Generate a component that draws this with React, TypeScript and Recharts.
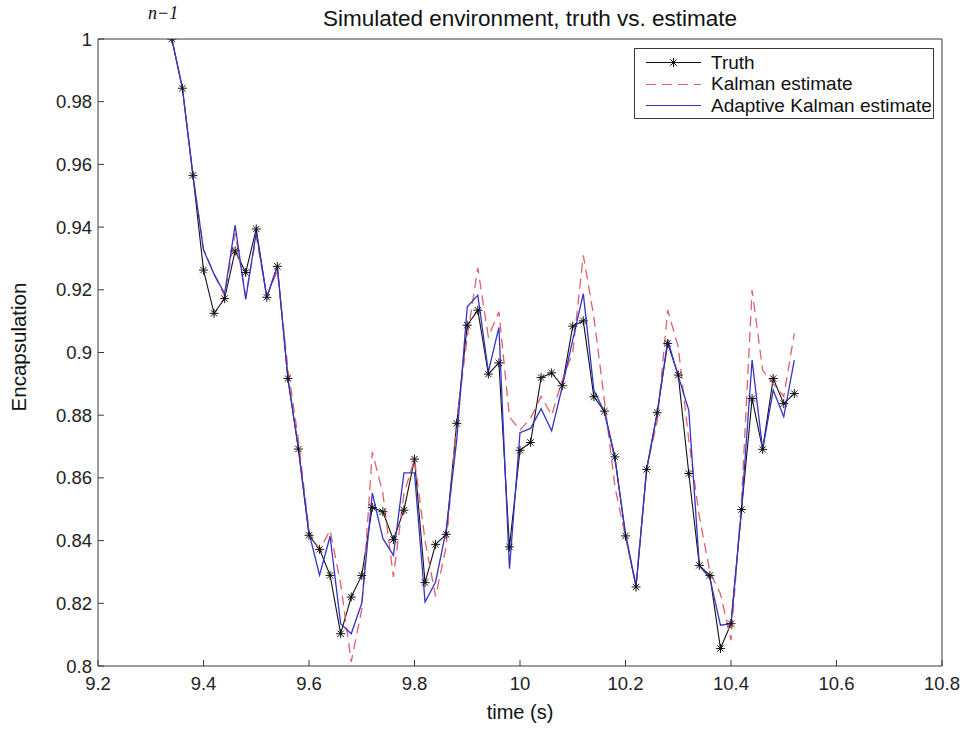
import React from 'react';
import { LineChart, Line, XAxis, YAxis, Legend } from 'recharts';

// time stamps (s) of the samples
const time = [
  9.34, 9.36, 9.38, 9.4, 9.42, 9.44, 9.46, 9.48, 9.5, 9.52,
  9.54, 9.56, 9.58, 9.6, 9.62, 9.64, 9.66, 9.68, 9.7, 9.72,
  9.74, 9.76, 9.78, 9.8, 9.82, 9.84, 9.86, 9.88, 9.9, 9.92,
  9.94, 9.96, 9.98, 10.0, 10.02, 10.04, 10.06, 10.08, 10.1, 10.12,
  10.14, 10.16, 10.18, 10.2, 10.22, 10.24, 10.26, 10.28, 10.3, 10.32,
  10.34, 10.36, 10.38, 10.4, 10.42, 10.44, 10.46, 10.48, 10.5, 10.52,
];

const truth = [
  1.0, 0.9843, 0.9565, 0.9263, 0.9125, 0.9172, 0.9324, 0.9255, 0.9394, 0.9176,
  0.9275, 0.8917, 0.8692, 0.8417, 0.8372, 0.8289, 0.8103, 0.822, 0.8289, 0.8506,
  0.8492, 0.8403, 0.8497, 0.866, 0.8266, 0.8388, 0.842, 0.8774, 0.9087, 0.9135,
  0.8931, 0.8967, 0.838, 0.8688, 0.8713, 0.892, 0.8935, 0.8894, 0.9084, 0.9101,
  0.8859, 0.8813, 0.8667, 0.8415, 0.8252, 0.8627, 0.8808, 0.9029, 0.8928, 0.8614,
  0.8321, 0.8289, 0.8056, 0.8135, 0.8499, 0.8853, 0.8691, 0.8917, 0.8837, 0.8869,
];

const kalman = [
  1.0, 0.9843, 0.9565, 0.933, 0.925, 0.918, 0.938, 0.918, 0.937, 0.918,
  0.926, 0.895, 0.872, 0.843, 0.837, 0.8433, 0.8263, 0.8013, 0.818, 0.8683,
  0.8551, 0.8284, 0.855, 0.866, 0.84, 0.8222, 0.838, 0.878, 0.905, 0.927,
  0.905, 0.913, 0.8795, 0.8752, 0.879, 0.886, 0.88, 0.8912, 0.9, 0.931,
  0.9114, 0.8848, 0.8571, 0.841, 0.826, 0.863, 0.878, 0.9135, 0.9018, 0.872,
  0.8476, 0.83, 0.823, 0.8082, 0.853, 0.9199, 0.8944, 0.89, 0.886, 0.9061,
];

const adaptive = [
  1.0, 0.9843, 0.9565, 0.9327, 0.925, 0.9188, 0.9406, 0.9169, 0.9385, 0.9176,
  0.9275, 0.8917, 0.8692, 0.8425, 0.829, 0.8414, 0.8135, 0.8103, 0.82, 0.8552,
  0.8407, 0.8353, 0.8616, 0.8616, 0.8204, 0.8268, 0.8433, 0.872, 0.9146, 0.9183,
  0.8938, 0.908, 0.831, 0.8744, 0.8758, 0.8821, 0.875, 0.889, 0.904, 0.9188,
  0.888, 0.881, 0.866, 0.8423, 0.8255, 0.8625, 0.8805, 0.9039, 0.8925, 0.8816,
  0.832, 0.828, 0.813, 0.8135, 0.85, 0.8976, 0.869, 0.888, 0.8795, 0.8976,
];

const seriesNames = ['Truth', 'Kalman estimate', 'Adaptive Kalman estimate'];

const xTicks = [9.2, 9.4, 9.6, 9.8, 10, 10.2, 10.4, 10.6, 10.8];
const yTicks = [0.8, 0.82, 0.84, 0.86, 0.88, 0.9, 0.92, 0.94, 0.96, 0.98, 1];

const data = time.map((t, i) => ({
  t,
  truth: truth[i],
  kalman: kalman[i],
  adaptive: adaptive[i],
}));

const FONT = '"Liberation Sans", Arial, Helvetica, sans-serif';
const AXIS = '#3a3a3a';
const RED = '#e0606a';
const BLUE = '#3434c8';

const fmt = (v: number) => String(+v.toFixed(2));

// matlab-style '*' marker
const Star = (props: any) => {
  const { cx, cy } = props;
  if (cx == null || cy == null) return null;
  const r = 4.5;
  const d = r * 0.7071;
  return (
    <g stroke="#111" strokeWidth={1} fill="none">
      <line x1={cx - r} y1={cy} x2={cx + r} y2={cy} />
      <line x1={cx} y1={cy - r} x2={cx} y2={cy + r} />
      <line x1={cx - d} y1={cy - d} x2={cx + d} y2={cy + d} />
      <line x1={cx - d} y1={cy + d} x2={cx + d} y2={cy - d} />
    </g>
  );
};

const renderLegend = (props: any) => {
  const payload = [...(props.payload || [])].sort(
    (a: any, b: any) => seriesNames.indexOf(a.value) - seriesNames.indexOf(b.value)
  );
  return (
    <div
      style={{
        width: 300,
        height: 71,
        boxSizing: 'border-box',
        border: `1px solid ${AXIS}`,
        background: '#fff',
        paddingTop: 3,
        fontFamily: FONT,
        fontSize: 19,
        color: '#111',
      }}
    >
      {payload.map((entry: any) => (
        <div key={entry.value} style={{ display: 'flex', alignItems: 'center', height: 21.5 }}>
          <svg width={76} height={21} style={{ flex: 'none' }}>
            <line
              x1={11}
              y1={10.5}
              x2={66}
              y2={10.5}
              stroke={entry.color}
              strokeWidth={1.2}
              strokeDasharray={entry.payload?.strokeDasharray}
            />
            {entry.dataKey === 'truth' && <Star cx={38.5} cy={10.5} />}
          </svg>
          <span style={{ whiteSpace: 'nowrap' }}>{entry.value}</span>
        </div>
      ))}
    </div>
  );
};

export default function App() {
  return (
    <div style={{ position: 'absolute', left: 0, top: 0, width: 962, height: 729, background: '#fff', fontFamily: FONT }}>
      <LineChart
        width={962}
        height={729}
        data={data}
        margin={{ top: 38, right: 19, left: 18, bottom: 33 }}
        style={{ fontFamily: FONT }}
      >
        <XAxis
          dataKey="t"
          type="number"
          domain={[9.2, 10.8]}
          ticks={xTicks}
          allowDataOverflow
          tickFormatter={fmt}
          height={30}
          tickSize={-6}
          tickMargin={17}
          stroke={AXIS}
          tick={{ fill: '#222', fontSize: 18.5 }}
        />
        <XAxis
          xAxisId="top"
          orientation="top"
          dataKey="t"
          type="number"
          domain={[9.2, 10.8]}
          ticks={xTicks}
          allowDataOverflow
          height={1}
          tick={false}
          tickSize={-6}
          stroke={AXIS}
        />
        <YAxis
          type="number"
          domain={[0.8, 1]}
          ticks={yTicks}
          allowDataOverflow
          tickFormatter={fmt}
          width={80}
          tickSize={-6}
          tickMargin={12}
          stroke={AXIS}
          tick={{ fill: '#222', fontSize: 18.5 }}
        />
        <YAxis
          yAxisId="right"
          orientation="right"
          type="number"
          domain={[0.8, 1]}
          ticks={yTicks}
          allowDataOverflow
          width={1}
          tick={false}
          tickSize={-6}
          stroke={AXIS}
        />
        <Legend
          layout="horizontal"
          verticalAlign="middle"
          align="center"
          content={renderLegend}
          wrapperStyle={{ position: 'absolute', left: 634, top: 48, width: 300, height: 71 }}
        />
        <Line
          name="Truth"
          dataKey="truth"
          type="linear"
          stroke="#111"
          strokeWidth={1.1}
          dot={<Star />}
          activeDot={false}
          isAnimationActive={false}
        />
        <Line
          name="Kalman estimate"
          dataKey="kalman"
          type="linear"
          stroke={RED}
          strokeWidth={1.3}
          strokeDasharray="10 6"
          dot={false}
          activeDot={false}
          isAnimationActive={false}
        />
        <Line
          name="Adaptive Kalman estimate"
          dataKey="adaptive"
          type="linear"
          stroke={BLUE}
          strokeWidth={1.3}
          dot={false}
          activeDot={false}
          isAnimationActive={false}
        />
      </LineChart>
      <svg
        width={962}
        height={729}
        style={{ position: 'absolute', left: 0, top: 0, pointerEvents: 'none' }}
      >
        <text x={148} y={19} fontFamily='"Liberation Serif", serif' fontStyle="italic" fontSize={18} fill="#111">
          n−1
        </text>
        <text x={530} y={26} textAnchor="middle" fontSize={22.5} fill="#111" fontFamily={FONT}>
          Simulated environment, truth vs. estimate
        </text>
        <text x={520} y={719} textAnchor="middle" fontSize={20} fill="#111" fontFamily={FONT}>
          time (s)
        </text>
        <text
          x={26}
          y={347}
          textAnchor="middle"
          fontSize={20.5}
          fill="#111"
          fontFamily={FONT}
          transform="rotate(-90 26 347)"
        >
          Encapsulation
        </text>
      </svg>
    </div>
  );
}
